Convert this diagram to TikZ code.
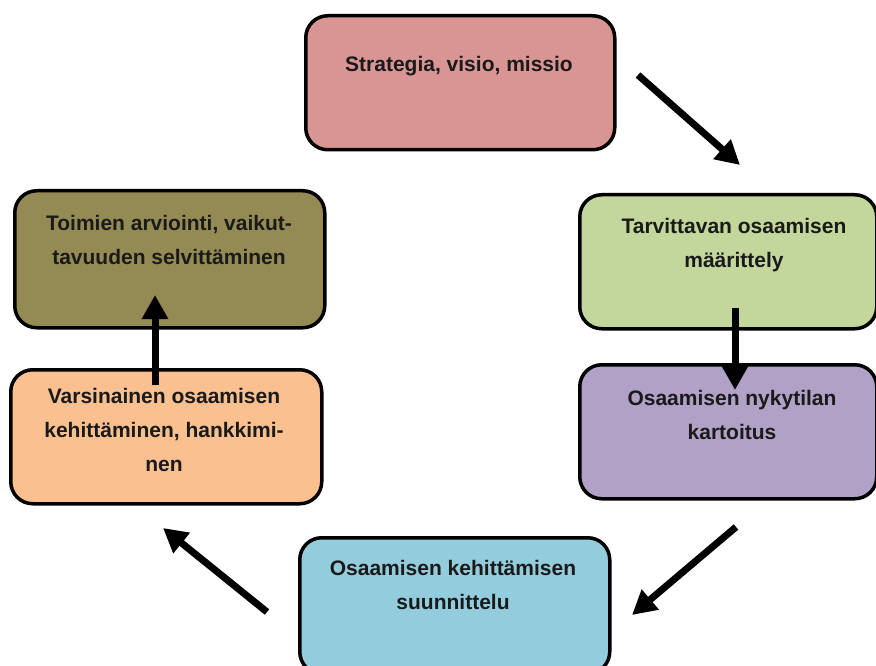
\documentclass[tikz,border=0pt]{standalone}
\usepackage{fontspec}
\setmainfont{Liberation Sans}
\usetikzlibrary{arrows.meta}
\definecolor{cpink}{HTML}{D99594}
\definecolor{cgreen}{HTML}{C3D69B}
\definecolor{cpurple}{HTML}{B2A1C7}
\definecolor{cblue}{HTML}{93CDDD}
\definecolor{corange}{HTML}{FAC090}
\definecolor{colive}{HTML}{948A54}
\definecolor{ctext}{HTML}{1A1A1A}
\tikzset{
  box/.style={draw=black, line width=3.5pt, rounded corners=22pt, inner sep=0pt, anchor=north west},
  lbl/.style={anchor=north, inner sep=0pt, align=center, text=ctext,
    font=\fontsize{21}{34}\selectfont\bfseries},
  flow/.style={line width=7pt, -{Triangle[length=24pt,width=25pt]}}
}
\begin{document}
\begin{tikzpicture}[x=1pt,y=-1pt]
\useasboundingbox (0,0) rectangle (876,666);
% boxes
\node[box, fill=cpink, minimum width=309pt, minimum height=134pt] (strat) at (304,14) {};
\node[box, fill=cgreen, minimum width=297pt, minimum height=134pt] (tarv) at (578,193) {};
\node[box, fill=cpurple, minimum width=297pt, minimum height=134pt] (nyky) at (578,363) {};
\node[box, fill=cblue, minimum width=310pt, minimum height=136pt] (suun) at (298,536) {};
\node[box, fill=corange, minimum width=311pt, minimum height=134pt] (vars) at (9,368) {};
\node[box, fill=colive, minimum width=310pt, minimum height=137pt] (toim) at (13,189) {};
% texts
\node[lbl] (tstrat) at (459,47.2) {\strut Strategia, visio, missio};
\node[lbl] (ttarv) at (734,209.2) {\strut Tarvittavan osaamisen\\m\"a\"arittely};
\node[lbl] (tnyky) at (732,381.2) {\strut Osaamisen nykytilan\\kartoitus};
\node[lbl] (tsuun) at (453,551.2) {\strut Osaamisen kehitt\"amisen\\suunnittelu};
\node[lbl] (tvars) at (164,379.2) {\strut Varsinainen osaamisen\\kehitt\"aminen, hankkimi-\\nen};
\node[lbl] (ttoim) at (169,206.2) {\strut Toimien arviointi, vaikut-\\tavuuden selvitt\"aminen};
% arrows
\coordinate (a1s) at (638,75);  \coordinate (a1e) at (740,165);
\coordinate (a2s) at (735,308); \coordinate (a2e) at (735,390);
\coordinate (a3s) at (736,527); \coordinate (a3e) at (632,615);
\coordinate (a4s) at (267,612); \coordinate (a4e) at (163,528);
\coordinate (a5s) at (155,385); \coordinate (a5e) at (155,295);
\draw[flow] (a1s) -- (a1e);
\draw[flow] (a2s) -- (a2e);
\draw[flow] (a3s) -- (a3e);
\draw[flow] (a4s) -- (a4e);
\draw[flow] (a5s) -- (a5e);
\end{tikzpicture}
\end{document}
